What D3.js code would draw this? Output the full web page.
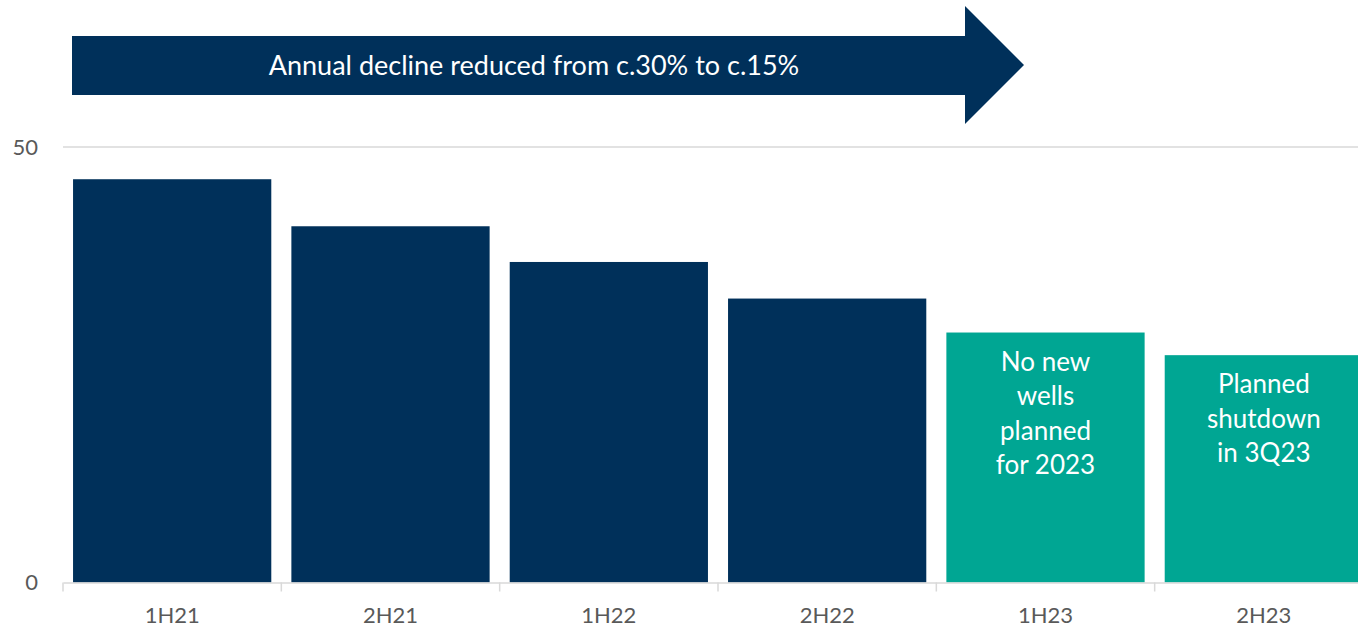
<!DOCTYPE html>
<html>
<head>
<meta charset="utf-8">
<script src="https://cdn.jsdelivr.net/npm/d3@7/dist/d3.min.js"></script>
<style>
  html, body { margin: 0; padding: 0; background: #fff; }
  svg { display: block; }
  text { font-family: Lato, "Open Sans", "Liberation Sans", sans-serif; }
</style>
</head>
<body>
<svg id="chart" width="1358" height="629"></svg>
<script>
// Half-yearly production figures
const categories = ["1H21", "2H21", "1H22", "2H22", "1H23", "2H23"];
const values = [46.3, 40.9, 36.8, 32.6, 28.7, 26.1];
const forecast = [false, false, false, false, true, true];
const barNotes = [[], [], [], [], ["No new", "wells", "planned", "for 2023"], ["Planned", "shutdown", "in 3Q23"]];
const yTicks = [0, 50];
const bannerText = "Annual decline reduced from c.30% to c.15%";

const navy = "#00305A";
const teal = "#00A693";

const svg = d3.select("#chart");

const x = d3.scaleBand()
  .domain(categories)
  .range([63, 1373])
  .paddingInner(0.092)
  .paddingOuter(0.046);

const y = d3.scaleLinear().domain([0, 50]).range([582.5, 147]);

// gridline at 50
svg.append("g")
  .selectAll("line")
  .data(yTicks.filter(d => d > 0))
  .join("line")
  .attr("x1", 63).attr("x2", 1358)
  .attr("y1", d => y(d)).attr("y2", d => y(d))
  .attr("stroke", "#d9d9d9").attr("stroke-width", 1.3);

// y tick labels
svg.append("g")
  .selectAll("text")
  .data(yTicks)
  .join("text")
  .attr("x", 38)
  .attr("y", d => y(d))
  .attr("dy", "0.35em")
  .attr("text-anchor", "end")
  .attr("fill", "#595959")
  .attr("font-size", 22)
  .text(d => d);

// bars
svg.append("g")
  .selectAll("rect")
  .data(categories)
  .join("rect")
  .attr("x", d => x(d))
  .attr("width", x.bandwidth())
  .attr("y", (d, i) => y(values[i]))
  .attr("height", (d, i) => y(0) - y(values[i]))
  .attr("fill", (d, i) => forecast[i] ? teal : navy);

// notes inside the forecast bars
categories.forEach((c, i) => {
  const lines = barNotes[i];
  if (!lines.length) return;
  const t = svg.append("text")
    .attr("text-anchor", "middle")
    .attr("fill", "#ffffff")
    .attr("font-size", 26);
  lines.forEach((ln, k) => {
    t.append("tspan")
      .attr("x", x(c) + x.bandwidth() / 2)
      .attr("y", y(values[i]) + 38 + k * 34.5)
      .text(ln);
  });
});

// x axis
const xAxis = d3.axisBottom(x).tickSize(0).tickPadding(0);
const gx = svg.append("g").attr("transform", `translate(0,${y(0)})`).call(xAxis);
gx.select(".domain").attr("stroke", "#d9d9d9").attr("stroke-width", 1.5);
gx.selectAll(".tick text")
  .attr("y", 40)
  .attr("dy", 0)
  .attr("fill", "#595959")
  .attr("font-size", 22)
  .attr("font-family", "Lato, 'Open Sans', sans-serif");

// category boundary ticks
const bounds = categories.map(c => x(c) - x.step() * x.paddingInner() / 2)
  .concat([x(categories[categories.length - 1]) + x.bandwidth() + x.step() * x.paddingInner() / 2]);
svg.append("g")
  .selectAll("line")
  .data(bounds)
  .join("line")
  .attr("x1", d => d).attr("x2", d => d)
  .attr("y1", y(0)).attr("y2", y(0) + 9)
  .attr("stroke", "#d9d9d9").attr("stroke-width", 1.5);

// banner arrow
const shaftTop = 36, shaftBot = 95, headTop = 6, headBot = 124;
const xs = 72, xh = 965, xt = 1024;
const arrowPts = [
  [xs, shaftTop], [xh, shaftTop], [xh, headTop], [xt, (headTop + headBot) / 2],
  [xh, headBot], [xh, shaftBot], [xs, shaftBot]
];
svg.append("path")
  .attr("d", d3.line()(arrowPts) + "Z")
  .attr("fill", navy);

svg.append("text")
  .attr("x", 534)
  .attr("y", (shaftTop + shaftBot) / 2)
  .attr("dy", "0.35em")
  .attr("text-anchor", "middle")
  .attr("fill", "#ffffff")
  .attr("font-size", 27)
  .text(bannerText);
</script>
</body>
</html>
